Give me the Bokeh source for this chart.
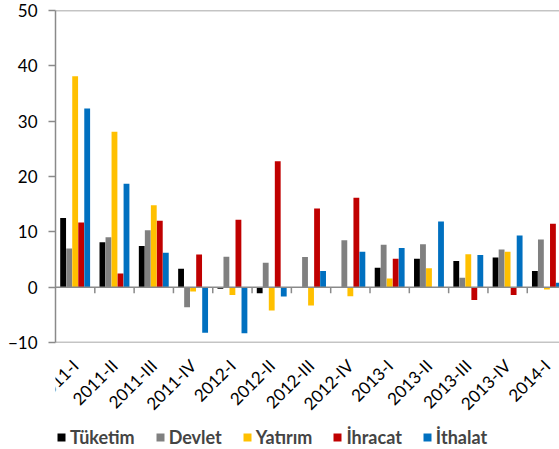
import math
from bokeh.plotting import figure
from bokeh.layouts import column
from bokeh.models import (Range1d, LinearAxis, FixedTicker, Span, Legend, LegendItem)
from bokeh.core.properties import value
from bokeh.embed import file_html
from bokeh.resources import INLINE

categories = ["2011-I", "2011-II", "2011-III", "2011-IV", "2012-I", "2012-II", "2012-III",
              "2012-IV", "2013-I", "2013-II", "2013-III", "2013-IV", "2014-I"]
tuketim = [12.5, 8.1, 7.45, 3.35, -0.3, -1.1, -0.15, -0.1, 3.5, 5.15, 4.75, 5.35, 2.9]
devlet = [7.0, 9.0, 10.3, -3.65, 5.5, 4.4, 5.45, 8.5, 7.65, 7.75, 1.7, 6.8, 8.6]
yatirim = [38.1, 28.1, 14.8, -0.8, -1.4, -4.2, -3.3, -1.65, 1.55, 3.4, 5.95, 6.4, -0.4]
ihracat = [11.7, 2.45, 12.0, 5.9, 12.2, 22.75, 14.2, 16.15, 5.15, 0.0, -2.3, -1.4, 11.45]
ithalat = [32.3, 18.7, 6.2, -8.25, -8.35, -1.7, 2.9, 6.4, 7.1, 11.85, 5.8, 9.35, 0.8]

series_names = ["Tüketim", "Devlet", "Yatırım", "İhracat", "İthalat"]
series_values = [tuketim, devlet, yatirim, ihracat, ithalat]
colors = ["#000000", "#808080", "#FFC000", "#C00000", "#0070C0"]
y_ticks = [-10, 0, 10, 20, 30, 40, 50]

FONT = "Lato"
GREY = "#8a8a8a"
Y_MIN, Y_MAX = -10, 50
X_MAX = 12.82
FRAME_H = 332
FRAME_W = 504
LEFT = 55
TOP = 10
BOTTOM_A = 10
TOTAL_W, TOTAL_H = 559, 449
TICK_PX = 6
bw = 0.153
centers = [i + 0.5 for i in range(len(categories))]

# ---------------- main chart ----------------
p = figure(frame_width=FRAME_W, frame_height=FRAME_H, output_backend="svg", toolbar_location=None,
           x_range=Range1d(0, X_MAX), y_range=Range1d(Y_MIN, Y_MAX),
           min_border_left=LEFT, min_border_right=0, min_border_top=TOP, min_border_bottom=BOTTOM_A,
           x_axis_type=None, y_axis_type=None)
p.grid.visible = False
p.outline_line_color = None
p.background_fill_color = "white"
p.border_fill_color = "white"

renderers = []
for k, (vals, col) in enumerate(zip(series_values, colors)):
    xs = [i + 0.5 + (k - 2) * bw for i in range(len(categories))]
    p.vbar(x=xs, top=vals, bottom=0, width=bw * 0.97, fill_color=col, line_color=None)

for loc in (Y_MAX, Y_MIN, 0):
    p.add_layout(Span(location=loc, dimension="width", line_color=GREY, line_width=1.5))

tick_len = TICK_PX * (Y_MAX - Y_MIN) / FRAME_H
bounds = list(range(1, len(categories)))
p.segment(x0=bounds, y0=[0] * len(bounds), x1=bounds, y1=[-tick_len] * len(bounds),
          line_color=GREY, line_width=1.5)

yax = LinearAxis(ticker=FixedTicker(ticks=y_ticks))
yax.axis_line_color = GREY
yax.axis_line_width = 1.5
yax.major_tick_line_color = GREY
yax.major_tick_line_width = 1.5
yax.major_tick_out = 7
yax.major_tick_in = 0
yax.minor_tick_line_color = None
yax.major_label_text_font = FONT
yax.major_label_text_font_size = "17px"
yax.major_label_text_color = "#000000"
yax.major_label_standoff = 11
p.add_layout(yax, "left")

# ---------------- category labels + legend strip (frame aligned with the chart) ----------------
strip_h = TOTAL_H - (TOP + FRAME_H + BOTTOM_A)
YB0 = 100  # strip's own vertical units (pixels), offset so helper bars stay out of view
q = figure(width=TOTAL_W, height=strip_h, output_backend="svg", toolbar_location=None,
           x_range=Range1d(0, X_MAX), y_range=Range1d(YB0, YB0 + strip_h),
           min_border_left=0, min_border_right=0, min_border_top=0, min_border_bottom=0,
           x_axis_type=None, y_axis_type=None)
q.grid.visible = False
q.outline_line_color = None
q.background_fill_color = "white"
q.border_fill_color = "white"

label_y = YB0 + strip_h - 10
q.text(x=centers, y=[label_y] * len(centers), text=categories, angle=math.pi / 4,
       text_align="right", text_baseline="middle", text_font=value(FONT),
       text_font_size="17px", text_color="#000000")

for vals, col in zip(series_values, colors):
    r = q.vbar(x=centers, top=vals, bottom=0, width=bw, fill_color=col, line_color=None)
    renderers.append(r)

legend = Legend(items=[LegendItem(label=n, renderers=[r]) for n, r in zip(series_names, renderers)],
                orientation="horizontal", location=(1, 1))
legend.glyph_width = 10
legend.glyph_height = 10
legend.label_text_font = FONT
legend.label_text_font_style = "bold"
legend.label_text_font_size = "18px"
legend.label_standoff = 4
legend.spacing = 20
legend.padding = 1
legend.margin = 0
legend.border_line_color = None
legend.background_fill_alpha = 0
q.add_layout(legend, "center")

layout = column(p, q, spacing=0)
open("out.html", "w").write(file_html(layout, INLINE))
